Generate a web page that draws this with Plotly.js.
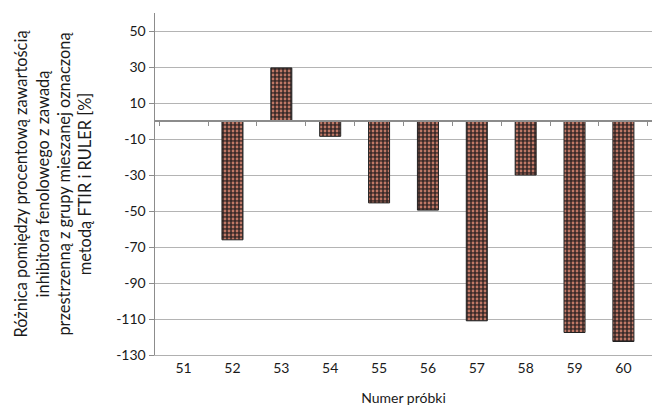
<!DOCTYPE html>
<html>
<head>
<meta charset="utf-8">
<script src="https://cdn.plot.ly/plotly-3.0.1.min.js"></script>
<style>html,body{margin:0;padding:0;background:#fff;}#chart{width:653px;height:407px;}</style>
</head>
<body>
<div id="chart"></div>
<script>
const categories = ["51","52","53","54","55","56","57","58","59","60"];
const values = [0, -66, 29.5, -8.5, -45.5, -49.5, -111, -30, -117.5, -122.5];
const yTickValues = [50, 30, 10, -10, -30, -50, -70, -90, -110, -130];
const xTitle = "Numer próbki";
const yTitle = "Różnica pomiędzy procentową zawartością<br>inhibitora fenolowego z zawadą<br>przestrzenną z grupy mieszanej oznaczoną<br>metodą FTIR i RULER [%]";

const yMin = -130, yMax = 60;
const font = {family: "Lato, Liberation Sans, Arial, sans-serif", size: 14, color: "#1a1a1a"};
const titleFont = {family: "Lato, Liberation Sans, Arial, sans-serif", size: 16.4, color: "#1a1a1a"};

const trace = {
  type: "bar",
  x: categories,
  y: values,
  width: 0.43,
  marker: {
    color: "#3a2a28",
    line: {color: "#222222", width: 1},
    pattern: {shape: ".", fgcolor: "#c07866", bgcolor: "#3a2a28", size: 4, solidity: 0.38}
  },
  hoverinfo: "x+y",
  showlegend: false
};

const ghost = {
  type: "scatter", mode: "markers", x: categories, y: values.map(() => null),
  xaxis: "x2", yaxis: "y", showlegend: false, hoverinfo: "skip"
};

const layout = {
  width: 653, height: 407,
  margin: {l: 155, r: 1, t: 13, b: 52, autoexpand: false},
  paper_bgcolor: "#fff", plot_bgcolor: "#fff",
  font: font,
  bargap: 0.57,
  xaxis: {
    type: "category",
    automargin: false,
    showgrid: false,
    showline: true, linecolor: "#b0b0b0", linewidth: 1,
    ticks: "", tickfont: font,
    title: {text: xTitle, font: font, standoff: 18},
    zeroline: false
  },
  xaxis2: {
    type: "category", overlaying: "x", anchor: "free",
    position: (0 - yMin) / (yMax - yMin),
    matches: "x",
    automargin: false,
    showline: true, linecolor: "#8c8c8c", linewidth: 2,
    ticks: "outside", ticklen: 4, tickcolor: "#8c8c8c", tickwidth: 1,
    tickson: "boundaries", showticklabels: false, showgrid: false, zeroline: false
  },
  yaxis: {
    range: [yMin, yMax],
    automargin: false,
    tickvals: yTickValues,
    ticktext: yTickValues.map(String),
    showgrid: true, gridcolor: "#b4b4b4", gridwidth: 1,
    showline: true, linecolor: "#8c8c8c", linewidth: 1.5,
    ticks: "outside", ticklen: 5, tickcolor: "#8c8c8c",
    tickfont: font,
    zeroline: false,
    title: {text: yTitle, font: titleFont, standoff: 20}
  }
};

Plotly.newPlot("chart", [trace, ghost], layout, {staticPlot: true});
</script>
</body>
</html>
